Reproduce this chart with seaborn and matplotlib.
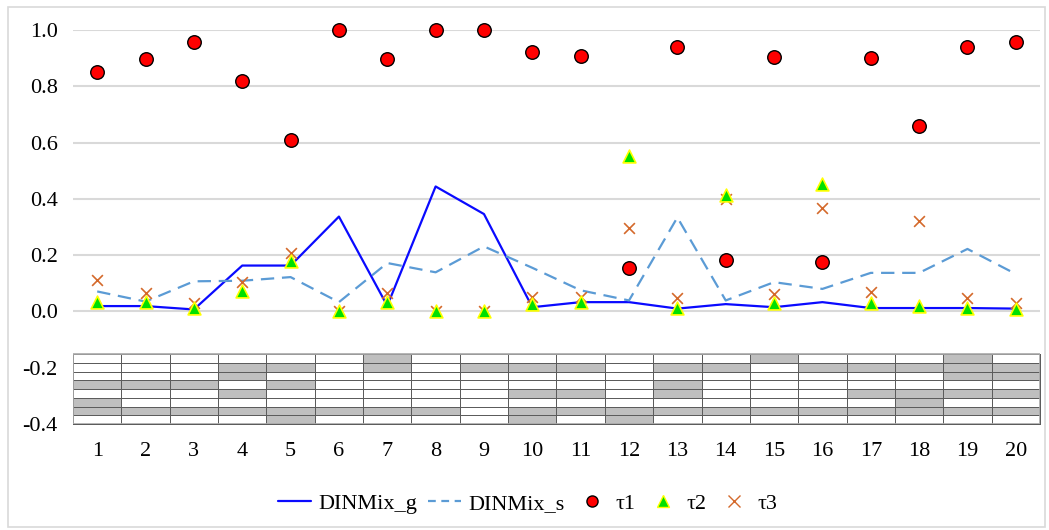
import numpy as np
import pandas as pd
import matplotlib
matplotlib.use("Agg")
import matplotlib.pyplot as plt
import seaborn as sns
from matplotlib.colors import ListedColormap
from matplotlib.lines import Line2D
from matplotlib.patches import Rectangle

# data
cases = list(range(1, 21))
dinmix_g = [0.019, 0.019, 0.007, 0.163, 0.163, 0.337, 0.02, 0.444, 0.346, 0.015,
            0.033, 0.033, 0.01, 0.026, 0.015, 0.033, 0.012, 0.012, 0.012, 0.01]
dinmix_s = [0.071, 0.035, 0.107, 0.109, 0.122, 0.033, 0.172, 0.139, 0.231, 0.155,
            0.075, 0.039, 0.334, 0.039, 0.104, 0.08, 0.137, 0.137, 0.222, 0.133]
tau1 = [0.85, 0.896, 0.959, 0.82, 0.61, 1.0, 0.896, 1.0, 1.0, 0.923,
        0.909, 0.153, 0.941, 0.182, 0.905, 0.177, 0.902, 0.659, 0.941, 0.959]
tau2 = [0.035, 0.035, 0.012, 0.071, 0.178, 0.0, 0.033, 0.0, 0.0, 0.025,
        0.035, 0.552, 0.012, 0.415, 0.03, 0.454, 0.03, 0.02, 0.012, 0.01]
tau3 = [0.113, 0.066, 0.031, 0.106, 0.207, 0.0, 0.067, 0.0, 0.0, 0.053,
        0.053, 0.296, 0.047, 0.401, 0.063, 0.369, 0.069, 0.32, 0.047, 0.031]
# shaded rows (0 = top row) of the 8-row pattern under each case
shaded_rows = [[3, 5, 6], [3, 6], [3, 6], [1, 2, 4, 6], [1, 3, 6, 7], [6], [0, 1, 6], [6],
               [1], [1, 4, 6, 7], [1, 4, 6], [6, 7], [1, 3, 4, 6], [1, 6], [0, 6], [1, 6],
               [1, 4, 6], [1, 4, 5, 6], [0, 1, 2, 4, 6], [1, 2, 4, 6]]
n_rows = 8

df = pd.DataFrame({"case": cases, "DINMix_g": dinmix_g, "DINMix_s": dinmix_s,
                   "tau1": tau1, "tau2": tau2, "tau3": tau3})

sns.set_style("white")
plt.rcParams["font.family"] = ["Liberation Serif", "DejaVu Serif"]
plt.rcParams["text.color"] = "black"

fig = plt.figure(figsize=(10.49, 5.30), dpi=100)
ax = fig.add_axes([0.0696, 0.2, 0.9218, 0.7434])

# grid lines for the upper part
for v in [0.0, 0.2, 0.4, 0.6, 0.8, 1.0]:
    ax.axhline(v, color="#d9d9d9", lw=1.5, zorder=0)

# shaded pattern table
mat = np.zeros((n_rows, len(cases)))
for j, rows in enumerate(shaded_rows):
    for r in rows:
        mat[r, j] = 1
xedges = np.arange(0.5, len(cases) + 1, 1.0)
yedges = np.linspace(-0.4, -0.152, n_rows + 1)
ax.pcolormesh(xedges, yedges, mat[::-1], cmap=ListedColormap(["white", "#bfbfbf"]),
              edgecolors="#5c5c5c", linewidth=0.7, zorder=1)
ax.add_patch(Rectangle((0.5, -0.4), 20, 0.248, fill=False, edgecolor="#a8a8a8",
                       lw=1.2, zorder=1.5))

sns.lineplot(data=df, x="case", y="DINMix_g", ax=ax, color="#0a0aff", lw=1.6, zorder=2)
sns.lineplot(data=df, x="case", y="DINMix_s", ax=ax, color="#5b9bd5", lw=1.6,
             zorder=2).lines[-1].set_dashes([6, 3.5])
sns.scatterplot(data=df, x="case", y="tau3", ax=ax, marker="x", color="#d4692b",
                s=60, linewidth=1.2, zorder=3)
sns.scatterplot(data=df, x="case", y="tau2", ax=ax, marker="^", color="#00e000",
                edgecolor="#ffff00", s=85, linewidth=1.2, zorder=4)
sns.scatterplot(data=df, x="case", y="tau1", ax=ax, marker="o", color="#ff0000",
                edgecolor="black", s=95, linewidth=1.0, zorder=5)
for c in ax.collections:
    c.set_clip_on(False)

ax.set_xlim(0.5, 20.5)
ax.set_ylim(-0.4, 1.0)
ax.set_xticks(cases)
ax.set_yticks([-0.4, -0.2, 0.0, 0.2, 0.4, 0.6, 0.8, 1.0])
ax.set_yticklabels(["-0.4", "-0.2", "0.0", "0.2", "0.4", "0.6", "0.8", "1.0"])
ax.tick_params(axis="x", length=0, pad=13, labelsize=16, labelcolor="black")
ax.tick_params(axis="y", length=0, pad=11, labelsize=16, labelcolor="black")
ax.set_xlabel("")
ax.set_ylabel("")
for s in ax.spines.values():
    s.set_visible(False)

handles = [
    Line2D([], [], color="#0a0aff", lw=1.6),
    Line2D([], [], color="#5b9bd5", lw=1.6, dashes=[3.5, 2.5]),
    Line2D([], [], ls="", marker="o", markerfacecolor="#ff0000", markeredgecolor="black", markersize=8),
    Line2D([], [], ls="", marker="^", markerfacecolor="#00e000", markeredgecolor="#ffff00", markersize=8),
    Line2D([], [], ls="", marker="x", color="#d4692b", markersize=8),
]
fig.legend(handles, ["DINMix_g", "DINMix_s", "τ1", "τ2", "τ3"], loc="center",
           bbox_to_anchor=(0.503, 0.05), ncol=5, frameon=False, fontsize=16,
           handlelength=1.5, columnspacing=0.5, handletextpad=0.3)

fig.patches.append(Rectangle((0.008, 0.006), 0.988, 0.981, transform=fig.transFigure,
                             fill=False, edgecolor="#d9d9d9", lw=1.2))

fig.savefig("out.png", dpi=100)
